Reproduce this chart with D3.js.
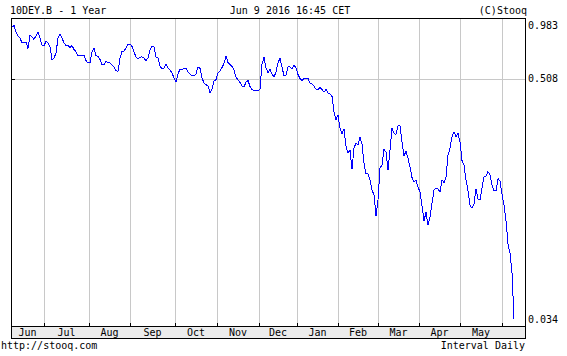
<!DOCTYPE html>
<html>
<head>
<meta charset="utf-8">
<script src="https://cdn.jsdelivr.net/npm/d3@7"></script>
<style>
  html, body { margin: 0; padding: 0; background: #fff; }
  svg { display: block; }
  text { font-family: "DejaVu Sans Mono", monospace; font-size: 10px; fill: #000; }
</style>
</head>
<body>
<svg id="chart" width="567" height="356"></svg>
<script>
// data
const title = '10DEY.B - 1 Year';
const stamp = 'Jun 9 2016 16:45 CET';
const credit = '(C)Stooq';
const footLeft = 'http://stooq.com';
const footRight = 'Interval Daily';

// daily closes, one per trading day, Jun 9 2015 .. Jun 9 2016
const values = [
	0.962, 0.983, 0.910, 0.863, 0.838, 0.793, 0.800, 0.800, 0.739, 0.873,
	0.852, 0.827, 0.863, 0.910, 0.841, 0.771, 0.761, 0.810, 0.790, 0.755,
	0.640, 0.656, 0.696, 0.841, 0.879, 0.841, 0.790, 0.766, 0.768, 0.749,
	0.764, 0.730, 0.709, 0.675, 0.673, 0.675, 0.681, 0.636, 0.616, 0.618,
	0.707, 0.739, 0.677, 0.669, 0.644, 0.601, 0.605, 0.628, 0.620, 0.618,
	0.601, 0.589, 0.560, 0.555, 0.654, 0.711, 0.715, 0.742, 0.775, 0.780,
	0.756, 0.707, 0.665, 0.648, 0.662, 0.665, 0.656, 0.634, 0.656, 0.724,
	0.756, 0.752, 0.665, 0.656, 0.594, 0.572, 0.577, 0.609, 0.579, 0.565,
	0.545, 0.512, 0.485, 0.538, 0.570, 0.565, 0.579, 0.579, 0.553, 0.538,
	0.525, 0.525, 0.538, 0.587, 0.576, 0.512, 0.481, 0.472, 0.463, 0.428,
	0.447, 0.493, 0.502, 0.545, 0.558, 0.583, 0.613, 0.673, 0.620, 0.605,
	0.590, 0.565, 0.518, 0.499, 0.484, 0.463, 0.458, 0.487, 0.496, 0.461,
	0.444, 0.438, 0.439, 0.437, 0.447, 0.609, 0.661, 0.579, 0.548, 0.570,
	0.538, 0.518, 0.551, 0.616, 0.654, 0.587, 0.525, 0.531, 0.587, 0.587,
	0.572, 0.601, 0.579, 0.535, 0.508, 0.496, 0.508, 0.505, 0.510, 0.481,
	0.475, 0.463, 0.445, 0.445, 0.456, 0.445, 0.430, 0.444, 0.425, 0.420,
	0.408, 0.337, 0.307, 0.325, 0.277, 0.259, 0.274, 0.222, 0.205, 0.212,
	0.169, 0.217, 0.231, 0.225, 0.248, 0.228, 0.181, 0.160, 0.160, 0.149,
	0.132, 0.125, 0.098, 0.118, 0.171, 0.177, 0.214, 0.207, 0.167, 0.212,
	0.277, 0.260, 0.256, 0.284, 0.285, 0.234, 0.198, 0.209, 0.192, 0.173,
	0.153, 0.145, 0.148, 0.137, 0.129, 0.110, 0.093, 0.102, 0.089, 0.097,
	0.113, 0.132, 0.135, 0.134, 0.129, 0.149, 0.144, 0.154, 0.199, 0.217,
	0.249, 0.265, 0.249, 0.260, 0.234, 0.187, 0.177, 0.149, 0.131, 0.111,
	0.107, 0.112, 0.134, 0.119, 0.118, 0.135, 0.154, 0.156, 0.164, 0.158,
	0.140, 0.131, 0.131, 0.151, 0.147, 0.126, 0.111, 0.093, 0.072, 0.065,
	0.053, 0.034
];

const monthLabels = ['Jun', 'Jul', 'Aug', 'Sep', 'Oct', 'Nov', 'Dec', 'Jan', 'Feb', 'Mar', 'Apr', 'May'];
// index (in trading days) of each month boundary, Jul .. Jun
const monthBounds = [16, 38.5, 59, 81.5, 102.5, 123.5, 142.5, 163, 183, 203.5, 224, 245];
const yLabels = ['0.983', '0.508', '0.034'];
const yGrid = [0.508];

// configs
const PLOT_L = 11;
const PLOT_R = 525;
const PLOT_T = 18;
const PLOT_B = 326;          // bottom of the drawing area, month band starts here
const BAND_B = 338;          // bottom of month band
const X_FIRST = 12;
const X_LAST = 514;
const Y_TOP = 25.5;          // pixel of max value
const Y_BOT = 319;           // pixel of min value
const LOG_SHIFT = 0.01;      // log scale runs on (v - shift)
const LINE_COLOR = '#0000ff';
const GRID_COLOR = '#c8c8c8';
const BAND_COLOR = '#ececec';
const TICK_LEN = 3;

const svg = d3.select('#chart');

// scales
const x = d3.scaleLinear()
	.domain([0, values.length - 1])
	.range([X_FIRST, X_LAST]);

const yLog = d3.scaleLog()
	.domain([d3.min(values) - LOG_SHIFT, d3.max(values) - LOG_SHIFT])
	.range([Y_BOT, Y_TOP]);
const y = v => yLog(v - LOG_SHIFT);

const crisp = v => Math.round(v) + 0.5;

// month band
svg.append('rect')
	.attr('x', PLOT_L).attr('y', PLOT_B)
	.attr('width', PLOT_R - PLOT_L).attr('height', BAND_B - PLOT_B)
	.attr('fill', BAND_COLOR);

// grid
const grid = svg.append('g').attr('shape-rendering', 'crispEdges');

grid.selectAll('line.vgrid')
	.data(monthBounds)
	.enter().append('line')
	.attr('class', 'vgrid')
	.attr('x1', d => crisp(x(d))).attr('x2', d => crisp(x(d)))
	.attr('y1', PLOT_T).attr('y2', PLOT_B)
	.attr('stroke', GRID_COLOR);

grid.selectAll('line.hgrid')
	.data(yGrid)
	.enter().append('line')
	.attr('class', 'hgrid')
	.attr('x1', PLOT_L).attr('x2', PLOT_R)
	.attr('y1', d => crisp(y(d))).attr('y2', d => crisp(y(d)))
	.attr('stroke', GRID_COLOR);

// series line
const line = d3.line()
	.x((d, i) => x(i))
	.y(d => y(d));

svg.append('path')
	.datum(values)
	.attr('d', line)
	.attr('fill', 'none')
	.attr('stroke', LINE_COLOR)
	.attr('stroke-width', 1)
	.attr('shape-rendering', 'crispEdges');

// frame + ticks
const frame = svg.append('g')
	.attr('stroke', '#000')
	.attr('shape-rendering', 'crispEdges');

frame.append('rect')
	.attr('x', PLOT_L + 0.5).attr('y', PLOT_T + 0.5)
	.attr('width', PLOT_R - PLOT_L).attr('height', BAND_B - PLOT_T)
	.attr('fill', 'none');

frame.append('line')
	.attr('x1', PLOT_L).attr('x2', PLOT_R)
	.attr('y1', PLOT_B + 0.5).attr('y2', PLOT_B + 0.5);

frame.selectAll('line.xtick')
	.data(monthBounds)
	.enter().append('line')
	.attr('class', 'xtick')
	.attr('x1', d => crisp(x(d))).attr('x2', d => crisp(x(d)))
	.attr('y1', PLOT_B - TICK_LEN).attr('y2', PLOT_B);

frame.selectAll('line.ytick')
	.data(yGrid)
	.enter().append('line')
	.attr('class', 'ytick')
	.attr('x1', PLOT_L).attr('x2', PLOT_L + TICK_LEN + 1)
	.attr('y1', d => crisp(y(d))).attr('y2', d => crisp(y(d)));

// month labels, centred between boundaries
const edges = [x(-0.5)].concat(monthBounds.map(x));
svg.selectAll('text.month')
	.data(monthLabels)
	.enter().append('text')
	.attr('class', 'month')
	.attr('x', (d, i) => (edges[i] + edges[i + 1]) / 2)
	.attr('y', BAND_B - 2)
	.attr('text-anchor', 'middle')
	.text(d => d);

// value labels: max, middle, min
const yVals = [d3.max(values), yGrid[0], d3.min(values)];
svg.selectAll('text.ylab')
	.data(yLabels)
	.enter().append('text')
	.attr('class', 'ylab')
	.attr('x', PLOT_R + 3)
	.attr('y', (d, i) => y(yVals[i]) + 3.5)
	.text(d => d);

// header + footer
svg.append('text').attr('x', 10).attr('y', 14).text(title);
svg.append('text').attr('x', 290).attr('y', 14).attr('text-anchor', 'middle').text(stamp);
svg.append('text').attr('x', 527).attr('y', 14).attr('text-anchor', 'end').text(credit);
svg.append('text').attr('x', 1).attr('y', 349).text(footLeft);
svg.append('text').attr('x', 525).attr('y', 349).attr('text-anchor', 'end').text(footRight);
</script>
</body>
</html>
